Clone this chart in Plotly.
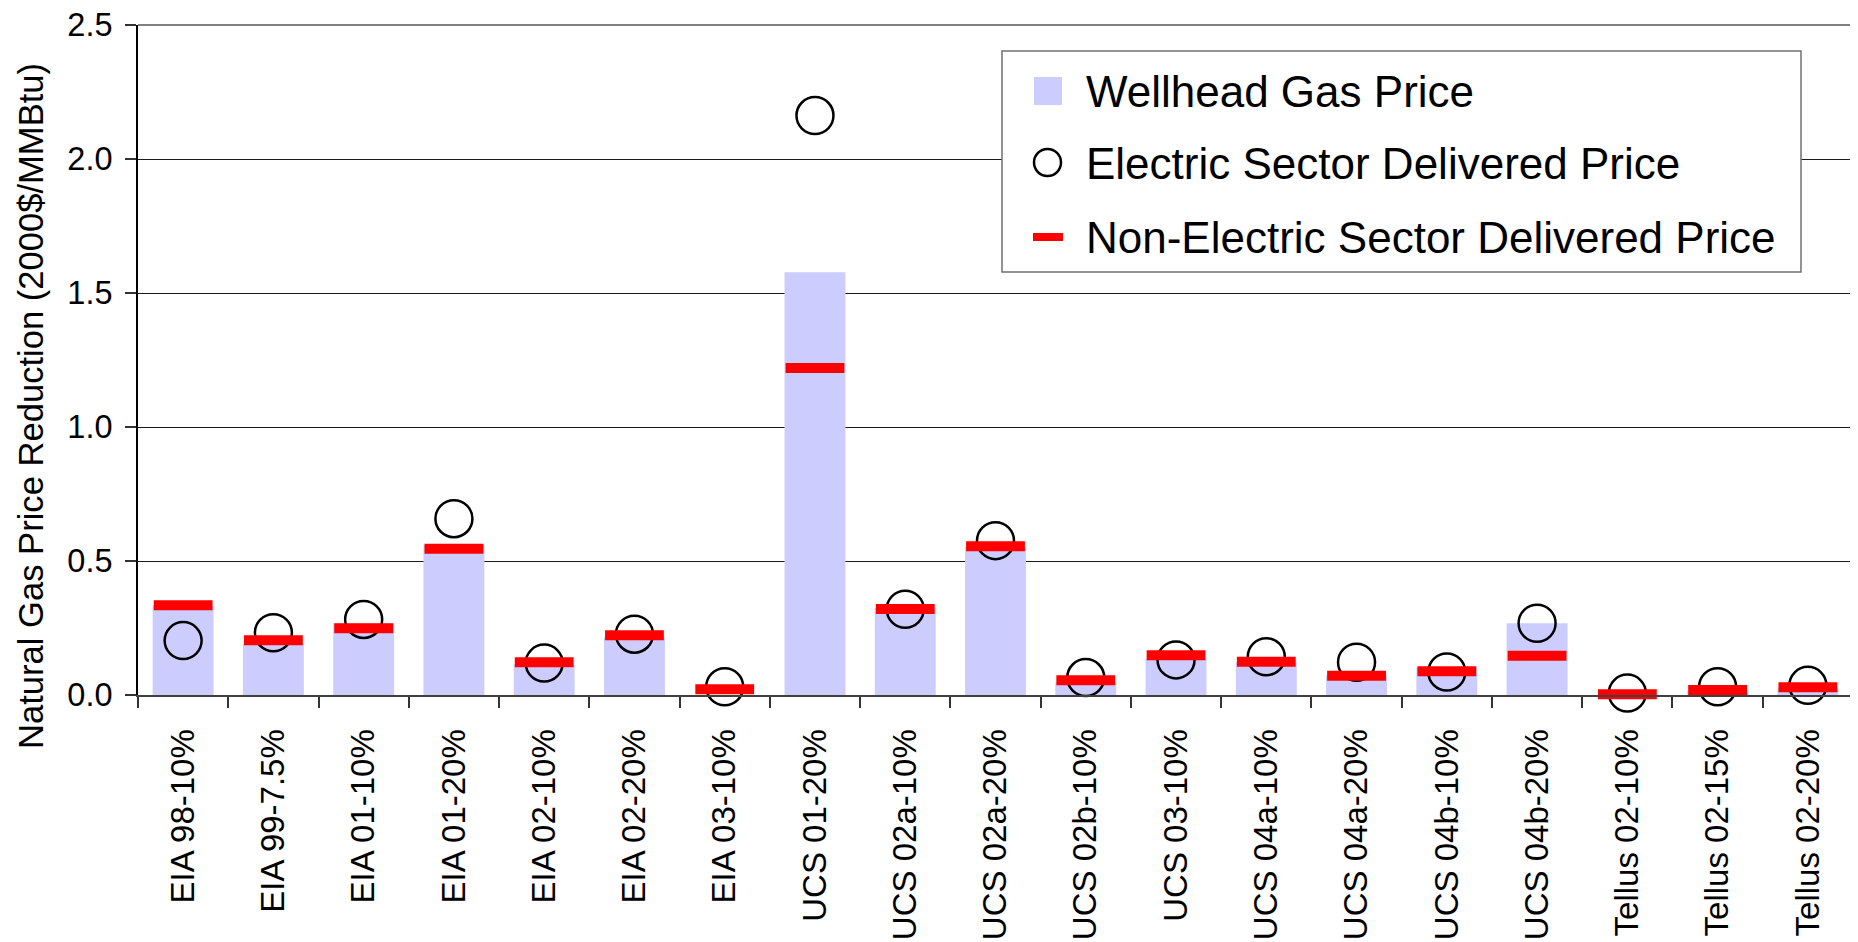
import plotly.graph_objects as go

categories = ["EIA 98-10%", "EIA 99-7.5%", "EIA 01-10%", "EIA 01-20%", "EIA 02-10%",
              "EIA 02-20%", "EIA 03-10%", "UCS 01-20%", "UCS 02a-10%", "UCS 02a-20%",
              "UCS 02b-10%", "UCS 03-10%", "UCS 04a-10%", "UCS 04a-20%", "UCS 04b-10%",
              "UCS 04b-20%", "Tellus 02-10%", "Tellus 02-15%", "Tellus 02-20%"]
wellhead = [0.335, 0.191, 0.268, 0.560, 0.115, 0.216, 0.0, 1.577, 0.325, 0.553,
            0.048, 0.134, 0.122, 0.074, 0.103, 0.268, 0.0, 0.015, 0.025]
electric = [0.203, 0.232, 0.282, 0.658, 0.119, 0.227, 0.031, 2.162, 0.320, 0.576,
            0.065, 0.131, 0.143, 0.122, 0.086, 0.268, 0.007, 0.031, 0.036]
non_electric = [0.335, 0.204, 0.249, 0.546, 0.122, 0.223, 0.021, 1.220, 0.321, 0.555,
                0.055, 0.148, 0.124, 0.072, 0.089, 0.146, 0.003, 0.019, 0.029]
series_names = ["Wellhead Gas Price", "Electric Sector Delivered Price",
                "Non-Electric Sector Delivered Price"]
y_title = "Natural Gas Price Reduction (2000$/MMBtu)"

FONT = "Arial, Liberation Sans, sans-serif"
PAGE_OFF = 8  # default body margin of the html page
FIG_W, FIG_H = 1858 - PAGE_OFF, 942 - PAGE_OFF
# plot area in page pixels: x 138..1853, y 25..695
L, T = 138 - PAGE_OFF, 25 - PAGE_OFF
R = FIG_W - (1853 - PAGE_OFF)
B = FIG_H - (695 - PAGE_OFF)
W = FIG_W - L - R
H = FIG_H - T - B


def px(x):
    return (x - PAGE_OFF - L) / W


def py(y):
    return (T + H - (y - PAGE_OFF)) / H


fig = go.Figure()
fig.add_trace(go.Bar(x=categories, y=wellhead, name=series_names[0],
                     marker=dict(color="#CCCCFF", line=dict(width=0)),
                     showlegend=False))
fig.add_trace(go.Scatter(x=categories, y=electric, name=series_names[1], mode="markers",
                         marker=dict(symbol="circle-open", size=37, color="black",
                                     line=dict(width=2.5, color="black")),
                         cliponaxis=False, showlegend=False))
fig.add_trace(go.Scatter(x=categories, y=non_electric, name=series_names[2], mode="markers",
                         marker=dict(symbol="line-ew", size=42, color="#FF0000",
                                     line=dict(width=10, color="#FF0000")),
                         cliponaxis=False, showlegend=False))

shapes = [
    # gray frame: top and right edges of the plot area
    dict(type="line", xref="paper", yref="paper", x0=0, x1=1, y0=1, y1=1,
         line=dict(color="#808080", width=2), layer="above"),
    dict(type="line", xref="paper", yref="paper", x0=1, x1=1, y0=0, y1=1,
         line=dict(color="#808080", width=2), layer="above"),
    # legend box
    dict(type="rect", xref="paper", yref="paper", x0=px(1002), x1=px(1801),
         y0=py(272), y1=py(51), line=dict(color="#707070", width=1.5),
         fillcolor="white", layer="above"),
    dict(type="rect", xref="paper", yref="paper", x0=px(1034), x1=px(1062),
         y0=py(105), y1=py(77), line=dict(width=0), fillcolor="#CCCCFF", layer="above"),
    dict(type="circle", xref="paper", yref="paper", x0=px(1034), x1=px(1061),
         y0=py(176), y1=py(149), line=dict(color="black", width=2.5), layer="above"),
    dict(type="line", xref="paper", yref="paper", x0=px(1033), x1=px(1063),
         y0=py(237), y1=py(237), line=dict(color="#FF0000", width=8), layer="above"),
]

annotations = [
    dict(text=y_title, xref="paper", yref="paper", x=px(31), y=py(406),
         xanchor="center", yanchor="middle", textangle=-90, showarrow=False,
         font=dict(family=FONT, size=34.6, color="black")),
]
for name, yc in zip(series_names, [91, 163, 237]):
    annotations.append(dict(text=name, xref="paper", yref="paper", x=px(1084), y=py(yc),
                            xanchor="left", yanchor="middle", showarrow=False,
                            font=dict(family=FONT, size=44, color="black")))

fig.update_layout(
    width=FIG_W, height=FIG_H,
    margin=dict(l=L, r=R, t=T, b=B, pad=0, autoexpand=False),
    paper_bgcolor="white", plot_bgcolor="white",
    font=dict(family=FONT, color="black"),
    bargap=0.325,
    shapes=shapes,
    annotations=annotations,
    showlegend=False,
    xaxis=dict(type="category", tickangle=-90, tickson="boundaries", ticks="outside",
               ticklen=11, tickcolor="#333", tickwidth=1.5, automargin=False,
               showline=True, linecolor="#404040", linewidth=2,
               showgrid=False, tickfont=dict(family=FONT, size=33, color="black"),
               ticklabelstandoff=19, ticklabeloverflow="allow",
               range=[-0.5, len(categories) - 0.5]),
    yaxis=dict(range=[0, 2.5], dtick=0.5, tickformat=".1f", ticks="outside", ticklen=11,
               tickcolor="#333", tickwidth=1.5, showline=True, linecolor="black", linewidth=2,
               automargin=False, ticklabeloverflow="allow",
               showgrid=True, gridcolor="#1a1a1a", gridwidth=1, zeroline=False,
               tickfont=dict(family=FONT, size=32.5, color="black"), ticklabelstandoff=6),
)

fig.write_html("out.html")
